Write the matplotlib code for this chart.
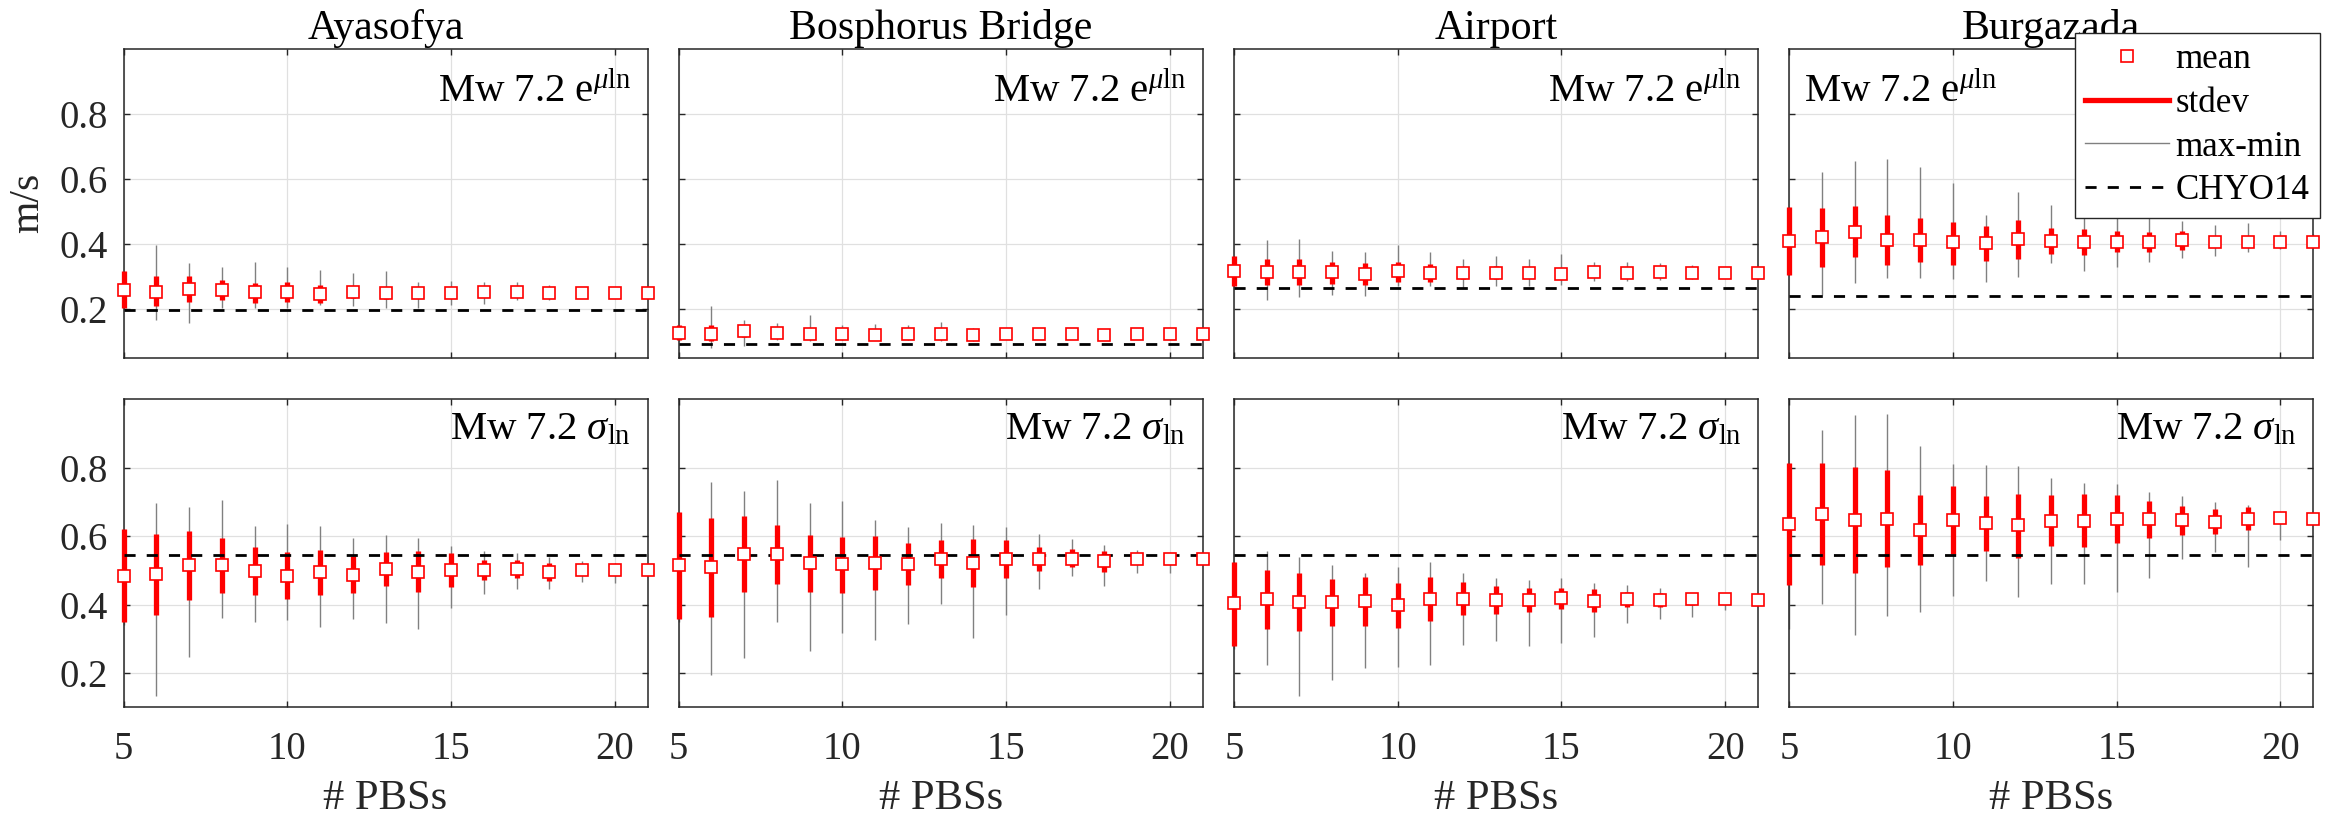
import numpy as np
import matplotlib
matplotlib.use('Agg')
import matplotlib.pyplot as plt
from matplotlib.lines import Line2D

plt.rcParams['font.family'] = ['Liberation Serif', 'DejaVu Serif']
plt.rcParams['mathtext.fontset'] = 'custom'
plt.rcParams['mathtext.rm'] = 'Liberation Serif'
plt.rcParams['mathtext.it'] = 'Liberation Serif:italic'
plt.rcParams['mathtext.bf'] = 'Liberation Serif:bold'

# number of PBSs
pbs = np.arange(5, 22)
sites = ['Ayasofya', 'Bosphorus Bridge', 'Airport', 'Burgazada']

# ---- top row: e^mu_ln (m/s) ----
aya_mu_mean = [0.259,0.253,0.262,0.257,0.251,0.251,0.246,0.251,0.248,0.248,0.249,0.251,0.251,0.249,0.250,0.249,0.249]
aya_mu_shi  = [0.316,0.300,0.302,0.288,0.280,0.283,0.273,0.268,0.265,0.262,0.262,0.263,0.262,0.260,0.260,0.258,0.258]
aya_mu_slo  = [0.203,0.208,0.221,0.229,0.218,0.220,0.218,0.233,0.232,0.234,0.236,0.239,0.240,0.238,0.240,0.240,0.240]
aya_mu_max  = [0.316,0.397,0.341,0.328,0.344,0.328,0.321,0.310,0.318,0.282,0.285,0.282,0.282,0.275,0.265,0.262,0.260]
aya_mu_min  = [0.203,0.167,0.157,0.203,0.203,0.203,0.213,0.210,0.203,0.203,0.213,0.216,0.229,0.229,0.235,0.238,0.240]
aya_mu_chyo = 0.198

bos_mu_mean = [0.126,0.124,0.131,0.126,0.123,0.124,0.121,0.123,0.123,0.121,0.124,0.124,0.123,0.121,0.123,0.123,0.123]
bos_mu_shi  = [0.152,0.152,0.145,0.140,0.138,0.137,0.135,0.135,0.135,0.133,0.135,0.135,0.134,0.132,0.134,0.134,0.134]
bos_mu_slo  = [0.104,0.101,0.115,0.112,0.108,0.110,0.108,0.110,0.110,0.108,0.112,0.112,0.112,0.110,0.112,0.112,0.112]
bos_mu_max  = [0.152,0.208,0.165,0.157,0.180,0.152,0.155,0.152,0.159,0.140,0.140,0.138,0.137,0.135,0.136,0.135,0.134]
bos_mu_min  = [0.100,0.080,0.085,0.104,0.100,0.104,0.104,0.104,0.102,0.100,0.108,0.108,0.108,0.108,0.110,0.110,0.110]
bos_mu_chyo = 0.093

air_mu_mean = [0.318,0.314,0.314,0.313,0.308,0.316,0.310,0.310,0.310,0.310,0.308,0.313,0.310,0.313,0.310,0.310,0.310]
air_mu_shi  = [0.364,0.354,0.354,0.346,0.341,0.345,0.338,0.330,0.333,0.328,0.326,0.328,0.325,0.326,0.323,0.322,0.322]
air_mu_slo  = [0.272,0.273,0.273,0.278,0.275,0.284,0.282,0.292,0.292,0.294,0.292,0.298,0.296,0.300,0.298,0.298,0.298]
air_mu_max  = [0.364,0.413,0.416,0.379,0.375,0.397,0.375,0.353,0.362,0.354,0.369,0.344,0.344,0.341,0.334,0.325,0.323]
air_mu_min  = [0.272,0.227,0.236,0.244,0.241,0.270,0.270,0.264,0.270,0.270,0.275,0.285,0.285,0.290,0.292,0.295,0.297]
air_mu_chyo = 0.266

bur_mu_mean = [0.410,0.420,0.438,0.413,0.413,0.405,0.402,0.415,0.409,0.407,0.407,0.405,0.411,0.407,0.405,0.407,0.405]
bur_mu_shi  = [0.513,0.512,0.518,0.488,0.479,0.469,0.454,0.474,0.450,0.446,0.439,0.437,0.441,0.425,0.420,0.420,0.420]
bur_mu_slo  = [0.304,0.328,0.360,0.336,0.345,0.336,0.349,0.354,0.368,0.366,0.374,0.374,0.382,0.390,0.390,0.390,0.390]
bur_mu_max  = [0.513,0.620,0.656,0.660,0.638,0.589,0.488,0.559,0.520,0.500,0.490,0.480,0.470,0.459,0.466,0.440,0.430]
bur_mu_min  = [0.304,0.242,0.280,0.295,0.295,0.293,0.283,0.297,0.341,0.316,0.330,0.344,0.357,0.364,0.374,0.385,0.388]
bur_mu_chyo = 0.241

# ---- bottom row: sigma_ln ----
aya_sg_mean = [0.484,0.489,0.514,0.514,0.499,0.484,0.495,0.487,0.505,0.496,0.501,0.501,0.504,0.496,0.501,0.502,0.502]
aya_sg_shi  = [0.620,0.606,0.614,0.595,0.569,0.554,0.559,0.542,0.554,0.556,0.550,0.530,0.530,0.520,0.516,0.515,0.515]
aya_sg_slo  = [0.348,0.369,0.412,0.435,0.429,0.416,0.429,0.433,0.455,0.437,0.452,0.472,0.477,0.470,0.486,0.489,0.489]
aya_sg_max  = [0.620,0.696,0.686,0.705,0.630,0.635,0.630,0.595,0.603,0.595,0.572,0.555,0.550,0.540,0.528,0.520,0.515]
aya_sg_min  = [0.340,0.133,0.248,0.360,0.348,0.355,0.335,0.357,0.345,0.329,0.391,0.431,0.446,0.446,0.466,0.464,0.489]
aya_sg_chyo = 0.544

bos_sg_mean = [0.515,0.511,0.548,0.548,0.520,0.517,0.522,0.518,0.533,0.522,0.533,0.534,0.534,0.526,0.532,0.534,0.534]
bos_sg_shi  = [0.669,0.654,0.658,0.633,0.604,0.597,0.600,0.579,0.587,0.592,0.587,0.569,0.561,0.557,0.548,0.547,0.547]
bos_sg_slo  = [0.358,0.364,0.436,0.459,0.436,0.433,0.443,0.456,0.478,0.450,0.477,0.499,0.509,0.496,0.518,0.520,0.520]
bos_sg_max  = [0.669,0.757,0.732,0.763,0.695,0.702,0.647,0.627,0.637,0.631,0.626,0.606,0.591,0.573,0.559,0.545,0.547]
bos_sg_min  = [0.350,0.193,0.243,0.350,0.265,0.316,0.296,0.343,0.401,0.301,0.368,0.446,0.483,0.454,0.491,0.491,0.520]
bos_sg_chyo = 0.545

air_sg_mean = [0.404,0.417,0.408,0.407,0.409,0.400,0.416,0.417,0.413,0.413,0.419,0.411,0.417,0.413,0.415,0.416,0.413]
air_sg_shi  = [0.525,0.502,0.491,0.475,0.479,0.463,0.481,0.465,0.455,0.447,0.449,0.445,0.437,0.433,0.430,0.430,0.428]
air_sg_slo  = [0.280,0.330,0.324,0.337,0.337,0.332,0.353,0.370,0.371,0.379,0.386,0.377,0.394,0.392,0.400,0.401,0.398]
air_sg_max  = [0.525,0.557,0.538,0.514,0.493,0.511,0.524,0.493,0.476,0.472,0.476,0.463,0.457,0.447,0.435,0.430,0.428]
air_sg_min  = [0.270,0.223,0.133,0.181,0.216,0.219,0.223,0.282,0.294,0.280,0.287,0.306,0.345,0.358,0.365,0.384,0.398]
air_sg_chyo = 0.544

bur_sg_mean = [0.634,0.664,0.647,0.651,0.617,0.647,0.639,0.631,0.645,0.645,0.651,0.650,0.647,0.642,0.651,0.652,0.651]
bur_sg_shi  = [0.813,0.813,0.801,0.793,0.720,0.746,0.718,0.722,0.720,0.722,0.720,0.703,0.689,0.679,0.685,0.668,0.666]
bur_sg_slo  = [0.456,0.516,0.493,0.510,0.514,0.547,0.557,0.537,0.571,0.569,0.581,0.595,0.603,0.606,0.618,0.637,0.636]
bur_sg_max  = [0.813,0.909,0.953,0.957,0.863,0.811,0.807,0.805,0.770,0.756,0.752,0.729,0.718,0.699,0.690,0.670,0.666]
bur_sg_min  = [0.330,0.401,0.312,0.367,0.379,0.426,0.469,0.423,0.459,0.459,0.437,0.477,0.534,0.552,0.511,0.587,0.636]
bur_sg_chyo = 0.545

rows = [
    [(aya_mu_mean, aya_mu_slo, aya_mu_shi, aya_mu_min, aya_mu_max, aya_mu_chyo),
     (bos_mu_mean, bos_mu_slo, bos_mu_shi, bos_mu_min, bos_mu_max, bos_mu_chyo),
     (air_mu_mean, air_mu_slo, air_mu_shi, air_mu_min, air_mu_max, air_mu_chyo),
     (bur_mu_mean, bur_mu_slo, bur_mu_shi, bur_mu_min, bur_mu_max, bur_mu_chyo)],
    [(aya_sg_mean, aya_sg_slo, aya_sg_shi, aya_sg_min, aya_sg_max, aya_sg_chyo),
     (bos_sg_mean, bos_sg_slo, bos_sg_shi, bos_sg_min, bos_sg_max, bos_sg_chyo),
     (air_sg_mean, air_sg_slo, air_sg_shi, air_sg_min, air_sg_max, air_sg_chyo),
     (bur_sg_mean, bur_sg_slo, bur_sg_shi, bur_sg_min, bur_sg_max, bur_sg_chyo)],
]
row_labels = [r'Mw 7.2 e$^{\mu\mathrm{ln}}$', r'Mw 7.2 $\sigma_{\mathrm{ln}}$']

W, H = 2333, 814
fig = plt.figure(figsize=(W / 200, H / 200), dpi=200)

# axes boxes in pixels (MATLAB-like manual layout)
lefts = [123.5, 678.7, 1233.9, 1789.1]
width = 524
tops = [49, 399]
heights = [308.7, 308.3]
ylims = [(0.05, 1.0), (0.1, 1.0)]
txt_y = [0.838, 0.883]

axc = '0.15'
for r in range(2):
    for c in range(4):
        ax = fig.add_axes([lefts[c] / W, 1 - (tops[r] + heights[r]) / H,
                           width / W, heights[r] / H])
        mean, slo, shi, mn, mx, chyo = rows[r][c]
        ax.vlines(pbs, mn, mx, color='0.5', lw=0.5, zorder=2, clip_on=False)
        ax.vlines(pbs, slo, shi, color='red', lw=1.9, zorder=3, clip_on=False)
        ax.axhline(chyo, color='k', lw=1.0, dashes=(4, 4), zorder=4)
        ax.plot(pbs, mean, 's', ms=4.4, mfc='white', mec='red', mew=0.6,
                zorder=5, clip_on=False)
        ax.set_xlim(5, 21)
        ax.set_ylim(*ylims[r])
        ax.set_xticks([5, 10, 15, 20])
        ax.set_yticks([0.2, 0.4, 0.6, 0.8])
        ax.grid(True, color='0.88', lw=0.45)
        ax.set_axisbelow(True)
        ax.tick_params(direction='in', length=2, width=0.5, color=axc,
                       top=True, right=True, labelsize=13.9, labelcolor=axc)
        ax.tick_params(axis='x', pad=8.5)
        ax.tick_params(axis='y', pad=5.5)
        for s in ax.spines.values():
            s.set_color(axc)
            s.set_linewidth(0.55)
        if c > 0:
            ax.set_yticklabels([])
        if r == 0:
            ax.set_xticklabels([])
            ax.set_title(sites[c], fontsize=15.1, pad=3.5)
        else:
            ax.set_xlabel('# PBSs', fontsize=15.3, color=axc, labelpad=4)
        if r == 0 and c == 0:
            ax.set_ylabel('m/s', fontsize=15, color=axc, labelpad=4.5)
        if r == 0 and c == 3:
            ax.text(5.45, txt_y[r], row_labels[r], fontsize=14.7, ha='left', va='baseline')
        else:
            ax.text(20.5, txt_y[r], row_labels[r], fontsize=14.7, ha='right', va='baseline')

handles = [
    Line2D([], [], ls='none', marker='s', ms=4.6, mfc='white', mec='red', mew=0.6),
    Line2D([], [], color='red', lw=1.9),
    Line2D([], [], color='0.5', lw=0.5),
    Line2D([], [], color='k', lw=1.0, dashes=(4, 4)),
]
leg = fig.legend(handles, ['mean', 'stdev', 'max-min', 'CHYO14'],
                 loc='upper right', bbox_to_anchor=(2320 / W, 1 - 33 / H),
                 fontsize=12.6, frameon=True, fancybox=False, framealpha=1,
                 edgecolor=axc, borderaxespad=0, handlelength=2.38,
                 handletextpad=0.2, borderpad=0.3, labelspacing=0.3)
leg.get_frame().set_linewidth(0.5)

fig.savefig('out.png', dpi=200)
